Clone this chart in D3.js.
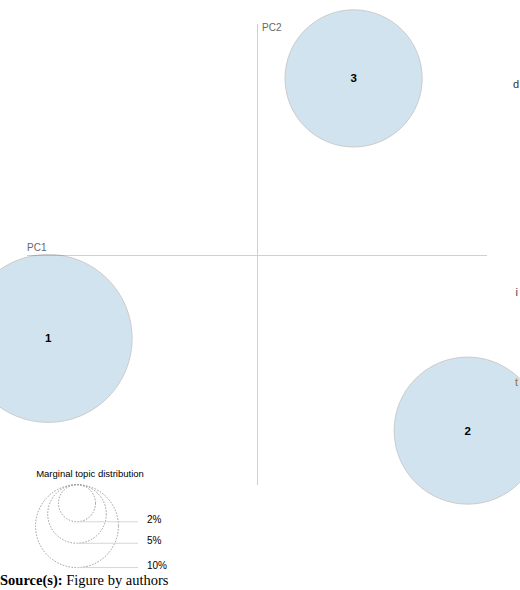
<!DOCTYPE html>
<html>
<head>
<meta charset="utf-8">
<style>
  body { margin: 0; background: #fff; }
  svg { display: block; }
  text { font-family: "Liberation Sans", Arial, sans-serif; }
</style>
</head>
<body>
<svg id="chart"></svg>

<script src="https://cdnjs.cloudflare.com/ajax/libs/d3/7.8.5/d3.min.js"></script>
<script>

  // topic data (PC coordinates and marginal topic distribution in %)
  var topics     = ["1", "2", "3"],
      pc1        = [-0.227, 0.229, 0.105],
      pc2        = [-0.091, -0.191, 0.191],
      freq       = [41.1, 31.5, 27.4],
      legendPcts = [2, 5, 10],
      legendText = ["2%", "5%", "10%"];

  var width  = 520,
      height = 590;

  var svg = d3.select("#chart")
              .attr("width", width)
              .attr("height", height);

  // scales for the mds plot
  var x = d3.scaleLinear().domain([-0.25, 0.25]).range([27, 487]);
  var y = d3.scaleLinear().domain([-0.25, 0.25]).range([485, 24]);
  var r = d3.scaleSqrt().domain([0, 100]).range([0, 131]);

  // axes: plain lines through the middle
  svg.append("line")
     .attr("x1", x(-0.25)).attr("x2", x(0.25))
     .attr("y1", Math.round(y(0)) + 0.5).attr("y2", Math.round(y(0)) + 0.5)
     .style("stroke", "#d0d0d0");

  svg.append("line")
     .attr("x1", Math.round(x(0)) + 0.5).attr("x2", Math.round(x(0)) + 0.5)
     .attr("y1", y(0.25)).attr("y2", y(-0.25))
     .style("stroke", "#d0d0d0");

  svg.append("text")
     .attr("x", x(-0.25)).attr("y", y(0) - 3.5)
     .style("font-size", "10px").style("fill", "#666")
     .text("PC1");

  svg.append("text")
     .attr("x", x(0) + 5).attr("y", y(0.25) + 6.5)
     .style("font-size", "10px").style("fill", "#666")
     .text("PC2");

  // topic circles
  var nodes = topics.map(function(t, i) {
    return {topic: t, x: pc1[i], y: pc2[i], freq: freq[i]};
  });

  svg.append("g").selectAll("circle")
     .data(nodes)
     .enter().append("circle")
       .attr("cx", function(d) { return x(d.x); })
       .attr("cy", function(d) { return y(d.y); })
       .attr("r", function(d) { return r(d.freq); })
       .style("fill", "#1f77b4")
       .style("stroke", "black")
       .style("opacity", 0.2);

  svg.append("g").selectAll("text")
     .data(nodes)
     .enter().append("text")
       .attr("x", function(d) { return x(d.x); })
       .attr("y", function(d) { return y(d.y) + 4; })
       .attr("text-anchor", "middle")
       .style("font-size", "11.5px")
       .style("font-weight", "bold")
       .style("fill", "#000")
       .text(function(d) { return d.topic; });

  // term labels at the right edge
  svg.append("text").attr("x", 513).attr("y", 88)
     .style("font-size", "11px").style("fill", "#333").text("d");
  svg.append("text").attr("x", 515.5).attr("y", 296)
     .style("font-size", "11px").style("fill", "#445").text("i");
  svg.append("text").attr("x", 515).attr("y", 386)
     .style("font-size", "11px").style("fill", "#a0702a").text("t");

  // legend for marginal topic distribution
  var legTop = 484.7, legX = 77;

  svg.append("text")
     .attr("x", 90).attr("y", 476.5)
     .attr("text-anchor", "middle")
     .style("font-size", "9.5px")
     .style("fill", "#000")
     .text("Marginal topic distribution");

  var leg = svg.append("g");

  leg.selectAll("circle")
     .data(legendPcts)
     .enter().append("circle")
       .attr("cx", legX)
       .attr("cy", function(d) { return legTop + r(d); })
       .attr("r", function(d) { return r(d); })
       .style("fill", "none")
       .style("stroke", "#999")
       .style("stroke-dasharray", "1.5 1.5");

  leg.selectAll("line")
     .data(legendPcts)
     .enter().append("line")
       .attr("x1", legX).attr("x2", 138)
       .attr("y1", function(d) { return legTop + 2 * r(d); })
       .attr("y2", function(d) { return legTop + 2 * r(d); })
       .style("stroke", "#d6d6d6");

  leg.selectAll("text")
     .data(legendPcts)
     .enter().append("text")
       .attr("x", 147)
       .attr("y", function(d) { return legTop + 2 * r(d) + 1; })
       .style("font-size", "10px")
       .style("fill", "#000")
       .text(function(d, i) { return legendText[i]; });

  // source line
  var src = svg.append("text")
               .attr("x", 0).attr("y", 585)
               .style("font-family", "'Liberation Serif', 'Times New Roman', serif")
               .style("font-size", "14.5px")
               .style("fill", "#000");
  src.append("tspan").style("font-weight", "bold").text("Source(s):");
  src.append("tspan").text(" Figure by authors");

</script>
</body>
</html>
